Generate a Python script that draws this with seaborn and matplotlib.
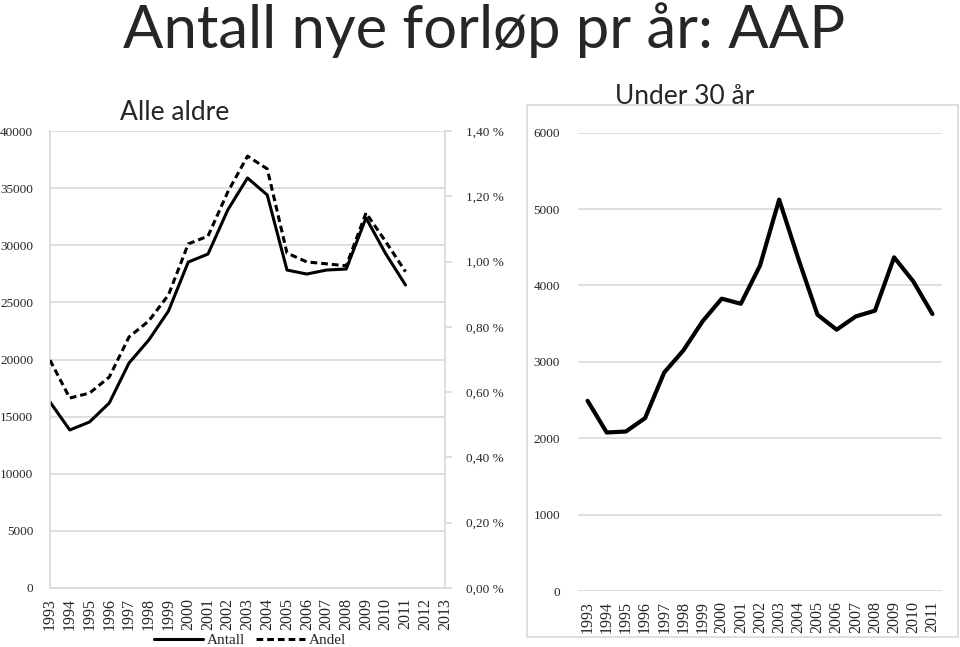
import matplotlib
matplotlib.use("Agg")
import matplotlib.pyplot as plt
import seaborn as sns
import pandas as pd
from matplotlib.patches import Rectangle

# ---- data ----
years_all = list(range(1993, 2014))          # axis categories, left panel
years = list(range(1993, 2012))              # years with data
antall = [16280, 13830, 14530, 16190, 19690, 21700, 24250, 28530, 29230, 33090,
          35890, 34400, 27830, 27480, 27830, 27920, 32390, 29250, 26520]
andel = [0.698, 0.582, 0.597, 0.646, 0.769, 0.818, 0.898, 1.054, 1.078, 1.213,
         1.323, 1.284, 1.026, 0.999, 0.993, 0.987, 1.149, 1.061, 0.969]
under30 = [2490, 2075, 2088, 2263, 2861, 3150, 3530, 3827, 3761, 4260,
           5124, 4350, 3617, 3421, 3595, 3670, 4368, 4054, 3626]
left_ticks = [0, 5000, 10000, 15000, 20000, 25000, 30000, 35000, 40000]
pct_ticks = [0.0, 0.2, 0.4, 0.6, 0.8, 1.0, 1.2, 1.4]
right_ticks = [0, 1000, 2000, 3000, 4000, 5000, 6000]

df = pd.DataFrame({"year": years, "Antall": antall, "Andel": andel, "u30": under30})

sns.set_style("white")
plt.rcParams["font.family"] = ["Liberation Serif", "DejaVu Serif"]
W, H = 960, 647
fig = plt.figure(figsize=(W / 100, H / 100), dpi=100)

def fx(px):
    return px / W

def fy(py):
    return 1 - py / H

GRID = "#d9d9d9"
TICKFS = 9.5
XFS = 11.5

# ---- left panel ----
axL = fig.add_axes([fx(50), fy(588), fx(445) - fx(50), fy(131) - fy(588)])
sns.lineplot(data=df, x="year", y="Antall", ax=axL, color="black", lw=2.2, label="Antall", legend=False)
axL.set_xlim(1993, 2013)
axL.set_ylim(0, 40000)
axL.set_yticks(left_ticks)
axL.set_yticklabels([str(t) for t in left_ticks], fontsize=TICKFS)
axL.set_xticks(years_all)
axL.set_xticklabels([str(y) for y in years_all], rotation=90, fontsize=XFS)
axL.grid(axis="y", color=GRID, lw=1.2)
axL.set_axisbelow(True)
axL.set_xlabel("")
axL.set_ylabel("")
for s in ["left", "bottom", "right"]:
    axL.spines[s].set_color(GRID)
    axL.spines[s].set_linewidth(1.2)
axL.spines["top"].set_visible(False)
axL.tick_params(axis="y", length=0, pad=12)
axL.tick_params(axis="x", length=0, pad=7)

axR = axL.twinx()
sns.lineplot(data=df, x="year", y="Andel", ax=axR, color="black", lw=2.2, label="Andel", legend=False)
axR.lines[-1].set_linestyle((0, (2.2, 1.3)))
axR.set_ylim(0, 1.4)
axR.set_yticks(pct_ticks)
axR.set_yticklabels([f"{t:.2f} %".replace(".", ",") for t in pct_ticks], fontsize=TICKFS)
axR.set_ylabel("")
for s in ["left", "bottom", "right", "top"]:
    axR.spines[s].set_visible(False)
axR.tick_params(axis="y", length=5, color=GRID, width=1.2, pad=10, right=True)
axR.grid(False)

handles = axL.get_lines()[:1] + axR.get_lines()[:1]
fig.legend(handles, ["Antall", "Andel"], loc="center", bbox_to_anchor=(fx(250), fy(640)),
           ncol=2, frameon=False, fontsize=11, handlelength=3.2, handletextpad=0.25,
           columnspacing=0.7, borderpad=0)

fig.text(fx(175), fy(113), "Alle aldre", fontsize=19, family=["Lato", "DejaVu Sans"],
         ha="center", va="center")

# ---- right panel ----
fig.add_artist(Rectangle((fx(527), fy(637)), fx(958) - fx(527), fy(105) - fy(637),
                         transform=fig.transFigure, fill=False, edgecolor=GRID, lw=1.2))
ax2 = fig.add_axes([fx(578), fy(591), fx(942) - fx(578), fy(132.7) - fy(591)])
sns.lineplot(data=df, x="year", y="u30", ax=ax2, color="black", lw=3.0)
ax2.set_xlim(1992.5, 2011.5)
ax2.set_ylim(0, 6000)
ax2.set_yticks(right_ticks)
ax2.set_yticklabels([str(t) for t in right_ticks], fontsize=TICKFS)
ax2.set_xticks(years)
ax2.set_xticklabels([str(y) for y in years], rotation=90, fontsize=XFS)
ax2.grid(axis="y", color=GRID, lw=1.2)
ax2.set_axisbelow(True)
ax2.set_xlabel("")
ax2.set_ylabel("")
for s in ax2.spines.values():
    s.set_visible(False)
ax2.tick_params(axis="y", length=0, pad=13)
ax2.tick_params(axis="x", length=0, pad=7)

fig.text(fx(685), fy(97), "Under 30 år", fontsize=19, family=["Lato", "DejaVu Sans"],
         ha="center", va="center")

# ---- title ----
fig.text(fx(484), fy(30), "Antall nye forløp pr år: AAP", fontsize=43,
         family=["Lato", "DejaVu Sans"], ha="center", va="center")

fig.savefig("out.png", dpi=100)
